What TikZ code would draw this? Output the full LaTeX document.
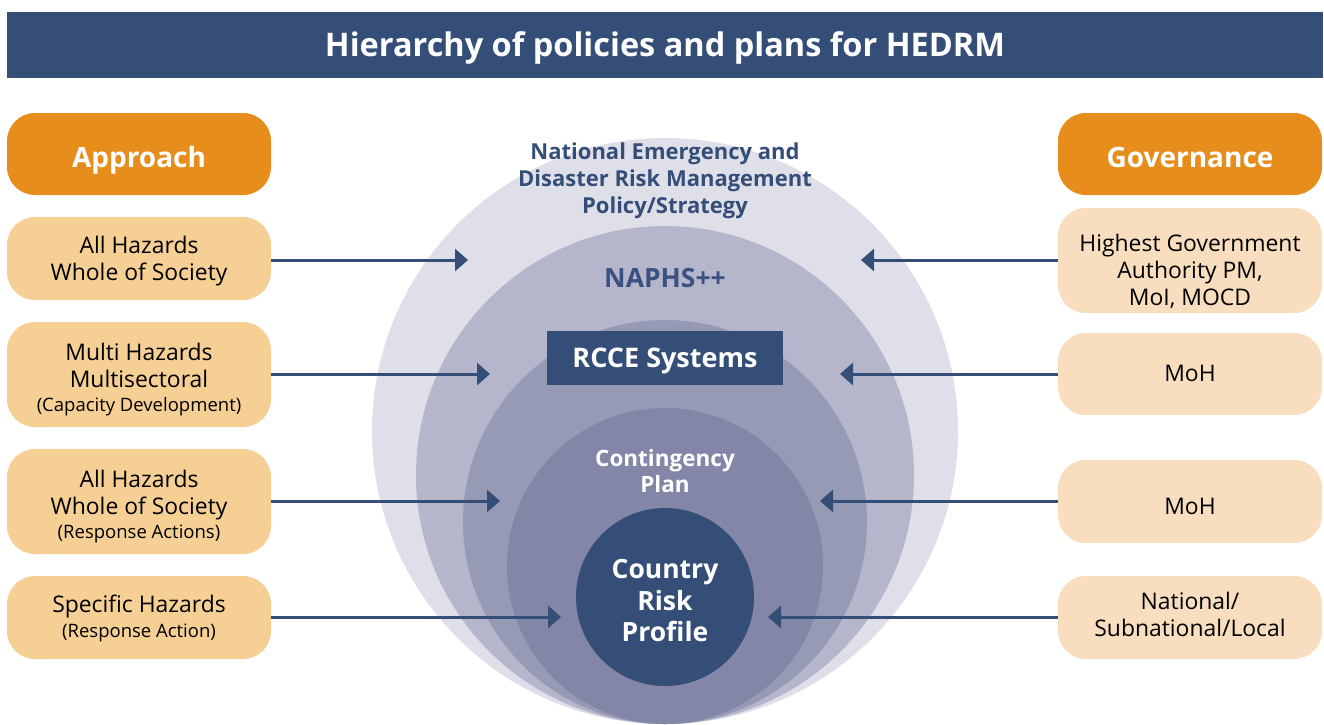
\documentclass[tikz,border=0pt]{standalone}
\usepackage{fontspec}
\setmainfont{Open Sans}
\usetikzlibrary{arrows.meta}
\definecolor{navy}{HTML}{344E78}
\definecolor{navytxt}{HTML}{3A5281}
\definecolor{orangehead}{HTML}{E68D1B}
\definecolor{leftbox}{HTML}{F6CF94}
\definecolor{rightbox}{HTML}{F8DEBE}
\definecolor{ringA}{HTML}{DFDFEA}
\definecolor{ringB}{HTML}{B5B6CC}
\definecolor{ringC}{HTML}{979AB5}
\definecolor{ringD}{HTML}{8386A6}
\newcommand{\smalltext}[1]{{\fontsize{18.5}{22}\selectfont #1}}
\begin{document}
\begin{tikzpicture}[x=1pt,y=-1pt,
  basebox/.style={rounded corners=28pt, minimum width=264pt, inner sep=0pt},
  headbox/.style={basebox, fill=orangehead, text=white, text height=32pt, text depth=6pt,
    font=\bfseries\fontsize{28}{32}\selectfont},
  lbox/.style={basebox, fill=leftbox},
  rbox/.style={basebox, fill=rightbox},
  btxt/.style={align=center, inner sep=0pt, text=black, font=\fontsize{22.9}{27}\selectfont},
  arr/.style={draw=navy, line width=3pt, -{Triangle[length=13pt,width=22pt]}}
]
\useasboundingbox (0,0) rectangle (1324,724);
\fill[white] (0,0) rectangle (1324,724);

% title bar
\node[fill=navy, minimum width=1316pt, minimum height=66pt, inner sep=0pt, text=white,
  text height=23pt, text depth=0pt,
  font=\bfseries\fontsize{32.5}{36}\selectfont] (title) at (665,45) {Hierarchy of policies and plans for HEDRM};

% concentric rings
\fill[ringA] (665,431) circle[radius=293];
\fill[ringB] (665,475) circle[radius=249];
\fill[ringC] (665,522) circle[radius=202];
\fill[ringD] (665,566) circle[radius=158];

% ring labels
\node[text=navy, align=center, inner sep=0pt, font=\bfseries\fontsize{22}{27}\selectfont] (nedrm) at (665,181)
  {National Emergency and\\Disaster Risk Management\\Policy/Strategy};
\node[text=navytxt, inner sep=0pt, text height=19pt, text depth=0pt,
  font=\bfseries\fontsize{26.5}{30}\selectfont] (naphs) at (665,278) {NAPHS++};
\node[fill=navy, text=white, minimum width=236pt, minimum height=54pt, inner sep=0pt,
  text height=19.3pt, text depth=0pt,
  font=\bfseries\fontsize{27}{30}\selectfont] (rcce) at (665,358) {RCCE Systems};
\node[text=white, align=center, inner sep=0pt, font=\bfseries\fontsize{22.5}{26}\selectfont] (cont) at (665,471)
  {Contingency\\Plan};
\node[circle, fill=navy, minimum size=178pt, inner sep=0pt] (crp) at (665,597) {};
\node[text=white, align=center, inner sep=0pt, font=\bfseries\fontsize{26.5}{31.5}\selectfont] (crptxt) at (665,601)
  {Country\\Risk\\Profile};

% left column
\node[headbox, minimum height=82pt] (appr) at (139,154) {Approach};
\node[lbox, minimum height=83pt] (L1) at (139,258.5) {};
\node[lbox, minimum height=105pt] (L2) at (139,374.5) {};
\node[lbox, minimum height=105pt] (L3) at (139,501.5) {};
\node[lbox, minimum height=83pt] (L4) at (139,617.5) {};
\node[btxt] (L1t) at (139,261.5) {All Hazards\\Whole of Society};
\node[btxt] (L2t) at (139,380) {Multi Hazards\\Multisectoral\\[-3pt]\smalltext{(Capacity Development)}};
\node[btxt] (L3t) at (139,506.5) {All Hazards\\Whole of Society\\[-3pt]\smalltext{(Response Actions)}};
\node[btxt] (L4t) at (139,618.5) {Specific Hazards\\[-2pt]\smalltext{(Response Action)}};

% right column
\node[headbox, minimum height=82pt] (gov) at (1190,154) {Governance};
\node[rbox, minimum height=105pt] (R1) at (1190,260.5) {};
\node[rbox, minimum height=82pt] (R2) at (1190,374) {};
\node[rbox, minimum height=83pt] (R3) at (1190,501.5) {};
\node[rbox, minimum height=83pt] (R4) at (1190,617.5) {};
\node[btxt] (R1t) at (1190,271) {Highest Government\\Authority PM,\\MoI, MOCD};
\node[btxt] (R2t) at (1190,373) {MoH};
\node[btxt] (R3t) at (1190,506.5) {MoH};
\node[btxt] (R4t) at (1190,614.5) {National/\\Subnational/Local};

% arrow tips
\coordinate (tL1) at (468,260);
\coordinate (tL2) at (490,374);
\coordinate (tL3) at (500,501);
\coordinate (tL4) at (561,617);
\coordinate (tR1) at (861,260);
\coordinate (tR2) at (840,374);
\coordinate (tR3) at (820,501);
\coordinate (tR4) at (768,617);

\draw[arr] (L1.east |- tL1) -- (tL1);
\draw[arr] (L2.east |- tL2) -- (tL2);
\draw[arr] (L3.east |- tL3) -- (tL3);
\draw[arr] (L4.east |- tL4) -- (tL4);
\draw[arr] (R1.west |- tR1) -- (tR1);
\draw[arr] (R2.west |- tR2) -- (tR2);
\draw[arr] (R3.west |- tR3) -- (tR3);
\draw[arr] (R4.west |- tR4) -- (tR4);
\end{tikzpicture}
\end{document}
